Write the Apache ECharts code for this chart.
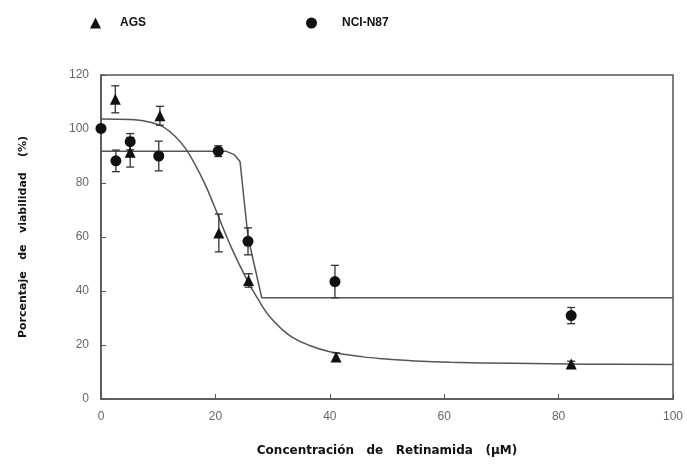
<!DOCTYPE html>
<html>
<head>
<meta charset="utf-8">
<script src="https://cdn.jsdelivr.net/npm/echarts@6/dist/echarts.min.js"></script>
<style>html,body{margin:0;padding:0;background:#fff}#c{width:687px;height:468px}</style>
</head>
<body>
<div id="c"></div>
<script>
// Measured points
const agsX   = [2.5, 5.1, 10.3, 20.6, 25.8, 41.1, 82.2];
const agsY   = [111, 91.4, 104.9, 61.5, 43.9, 15.6, 13];
const agsErr = [5, 5.5, 3.5, 7, 2.5, 1.5, 1];

const nciX   = [0, 2.6, 5.1, 10.1, 20.5, 25.7, 40.9, 82.2];
const nciY   = [100.2, 88.2, 95.3, 90, 91.8, 58.4, 43.5, 30.9];
const nciErr = [1, 4, 3, 5.5, 2, 5, 6, 3];

// Fitted curves
const agsFitX = [0, 5, 8, 10.7, 12.9, 14.7, 16.4, 18.2, 19.6, 22.6, 25.5, 27.5, 29.5, 33, 36.5, 40, 45.8, 49.3, 55, 61, 72, 85, 100];
const agsFitY = [103.7, 103.5, 102.8, 101, 97.4, 93, 87, 79.5, 72.5, 57, 44.2, 36.8, 30.5, 23.5, 19.8, 17.5, 15.6, 14.9, 14.1, 13.6, 13.2, 12.9, 12.8];
const nciFitX = [0, 21.8, 23.3, 24.3, 25.7, 28.1, 100];
const nciFitY = [91.8, 91.8, 90.5, 88, 60, 37.5, 37.5];

const xTicks = [0, 20, 40, 60, 80, 100];
const yTicks = [0, 20, 40, 60, 80, 100, 120];

const zip = (a, b) => a.map((v, i) => [v, b[i]]);
const errData = (x, y, e) => x.map((v, i) => [v, y[i] - e[i], y[i] + e[i]]);

function errRender(params, api) {
  const x = api.value(0);
  const lo = api.coord([x, api.value(1)]);
  const hi = api.coord([x, api.value(2)]);
  const w = 4;
  const st = { stroke: '#333', lineWidth: 1.3 };
  return {
    type: 'group',
    children: [
      { type: 'line', shape: { x1: lo[0], y1: lo[1], x2: hi[0], y2: hi[1] }, style: st },
      { type: 'line', shape: { x1: lo[0] - w, y1: lo[1], x2: lo[0] + w, y2: lo[1] }, style: st },
      { type: 'line', shape: { x1: hi[0] - w, y1: hi[1], x2: hi[0] + w, y2: hi[1] }, style: st }
    ]
  };
}

const chart = echarts.init(document.getElementById('c'), null, { renderer: 'canvas' });
const legendText1 = { color: '#111', fontSize: 12, fontWeight: 'bold', fontFamily: 'Liberation Sans', padding: [0, 0, 0, 14] };
const legendText2 = { color: '#111', fontSize: 12, fontWeight: 'bold', fontFamily: 'Liberation Sans', padding: [0, 0, 0, 20] };
chart.setOption({
  animation: false,
  backgroundColor: '#fff',
  grid: { left: 101, right: 14, top: 75, bottom: 69, show: true, borderColor: '#555', borderWidth: 1.5 },
  legend: [
    { data: ['AGS'], left: 85, top: 12, itemWidth: 11, itemHeight: 11, icon: 'triangle', textStyle: legendText1, itemStyle: { color: '#111', opacity: 1 } },
    { data: ['NCI-N87'], left: 301, top: 12, itemWidth: 11, itemHeight: 11, icon: 'circle', textStyle: legendText2, itemStyle: { color: '#111', opacity: 1 } }
  ],
  xAxis: {
    type: 'value', min: 0, max: 100, interval: 20,
    name: 'Concentración   de   Retinamida   (µM)', nameLocation: 'middle', nameGap: 46,
    nameTextStyle: { color: '#111', fontSize: 12, fontWeight: 'bold', fontFamily: 'DejaVu Sans' },
    axisLine: { lineStyle: { color: '#555', width: 1.5 } },
    axisTick: { inside: true, length: 5, lineStyle: { color: '#555' } },
    axisLabel: { color: '#666', fontSize: 12, fontFamily: 'Liberation Sans', margin: 12, formatter: v => xTicks.includes(v) ? String(v) : '' },
    splitLine: { show: false }
  },
  yAxis: {
    type: 'value', min: 0, max: 120, interval: 20,
    name: 'Porcentaje   de   viabilidad    (%)', nameLocation: 'middle', nameGap: 72, nameRotate: 90,
    nameTextStyle: { color: '#111', fontSize: 11, fontWeight: 'bold', fontFamily: 'DejaVu Sans' },
    axisLine: { lineStyle: { color: '#555', width: 1.5 } },
    axisTick: { inside: true, length: 5, lineStyle: { color: '#555' } },
    axisLabel: { color: '#666', fontSize: 12, fontFamily: 'Liberation Sans', margin: 12, formatter: v => yTicks.includes(v) ? String(v) : '' },
    splitLine: { show: false }
  },
  series: [
    { name: 'AGS fit', type: 'line', data: zip(agsFitX, agsFitY), smooth: 0.35, symbol: 'none', lineStyle: { color: '#555', width: 1.5 }, z: 1 },
    { name: 'NCI fit', type: 'line', data: zip(nciFitX, nciFitY), smooth: false, symbol: 'none', lineStyle: { color: '#555', width: 1.5 }, z: 1 },
    { name: 'AGS err', type: 'custom', renderItem: errRender, data: errData(agsX, agsY, agsErr), z: 2 },
    { name: 'NCI err', type: 'custom', renderItem: errRender, data: errData(nciX, nciY, nciErr), z: 2 },
    { name: 'AGS', type: 'scatter', data: zip(agsX, agsY), symbol: 'triangle', symbolSize: 11, itemStyle: { color: '#111', opacity: 1 }, z: 3 },
    { name: 'NCI-N87', type: 'scatter', data: zip(nciX, nciY), symbol: 'circle', symbolSize: 11, itemStyle: { color: '#111', opacity: 1 }, z: 3 }
  ]
});
</script>
</body>
</html>
